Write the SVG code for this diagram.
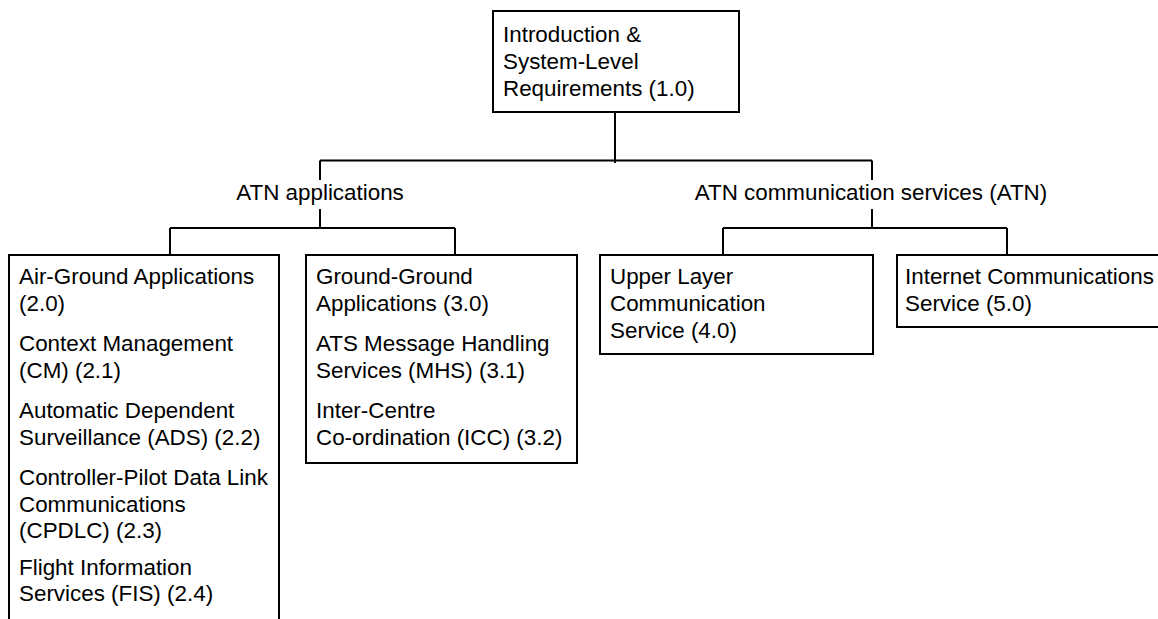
<svg xmlns="http://www.w3.org/2000/svg" width="1158" height="619" viewBox="0 0 1158 619">
<style>
.box{fill:#fff;stroke:#000;stroke-width:2}
.ln{fill:none;stroke:#000;stroke-width:2}
text{font-family:"Liberation Sans",Arial,sans-serif;font-size:22.4px;fill:#000}
.c{text-anchor:middle}
</style>
<rect width="1158" height="619" fill="#fff"/>
<g id="connectors">
<path class="ln" d="M615 112V163"/>
<path class="ln" d="M320 160.5H872"/>
<path class="ln" d="M320 160.5V180M320 209V228M170 228H455M170 228V255M455 228V255"/>
<path class="ln" d="M872 160.5V180M872 209V228M723 228H1007M723 228V255M1007 228V255"/>
</g>
<g id="n1">
<rect class="box" x="493" y="11" width="246" height="101"/>
<text x="503" y="42">Introduction &amp;</text>
<text x="503" y="68.5">System-Level</text>
<text x="503" y="95.5">Requirements (1.0)</text>
</g>
<g id="lbl-apps"><text class="c" x="320" y="200">ATN applications</text></g>
<g id="lbl-comm"><text class="c" x="871" y="200">ATN communication services (ATN)</text></g>
<g id="n2">
<path class="box" d="M9 630V255H279V630"/>
<text x="19" y="284">Air-Ground Applications</text>
<text x="19" y="310.5">(2.0)</text>
<text x="19" y="351">Context Management</text>
<text x="19" y="377.5">(CM) (2.1)</text>
<text x="19" y="418">Automatic Dependent</text>
<text x="19" y="444.5">Surveillance (ADS) (2.2)</text>
<text x="19" y="485">Controller-Pilot Data Link</text>
<text x="19" y="511.5">Communications</text>
<text x="19" y="538">(CPDLC) (2.3)</text>
<text x="19" y="575">Flight Information</text>
<text x="19" y="601">Services (FIS) (2.4)</text>
</g>
<g id="n3">
<rect class="box" x="306" y="255" width="271" height="208"/>
<text x="316" y="284">Ground-Ground</text>
<text x="316" y="310.5">Applications (3.0)</text>
<text x="316" y="351">ATS Message Handling</text>
<text x="316" y="377.5">Services (MHS) (3.1)</text>
<text x="316" y="418">Inter-Centre</text>
<text x="316" y="444.5">Co-ordination (ICC) (3.2)</text>
</g>
<g id="n4">
<rect class="box" x="600" y="255" width="273" height="99"/>
<text x="610" y="284">Upper Layer</text>
<text x="610" y="311">Communication</text>
<text x="610" y="338">Service (4.0)</text>
</g>
<g id="n5">
<rect class="box" x="897" y="255" width="280" height="72"/>
<text x="905" y="284">Internet Communications</text>
<text x="905" y="311">Service (5.0)</text>
</g>
</svg>
